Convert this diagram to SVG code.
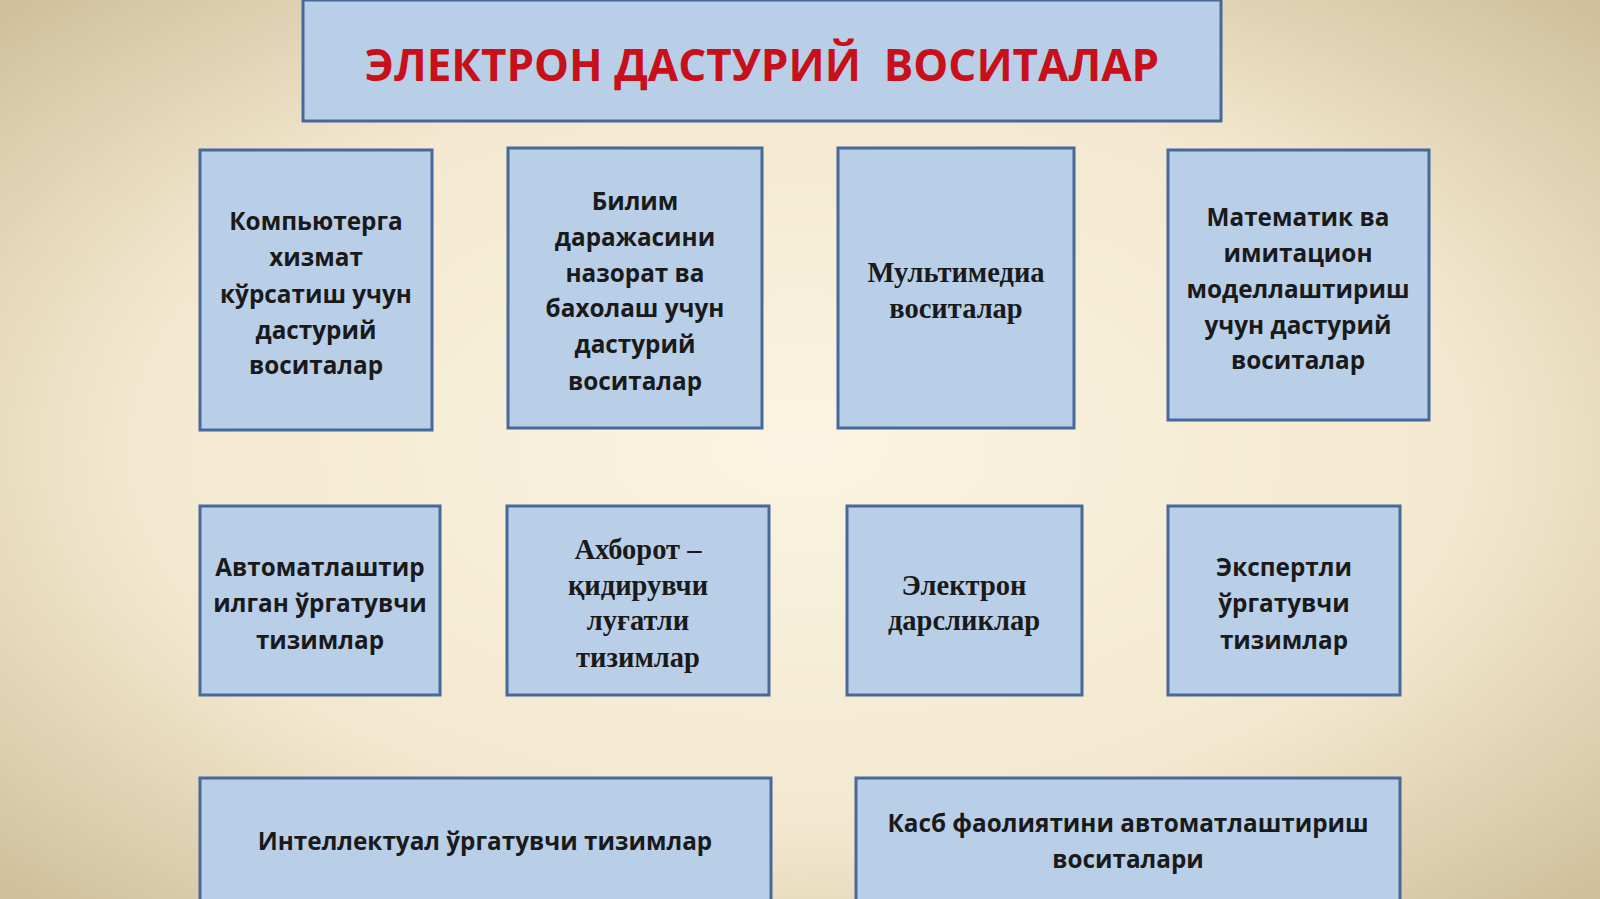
<svg xmlns="http://www.w3.org/2000/svg" width="1600" height="899" viewBox="0 0 1600 899">
<defs>
<radialGradient id="bg" cx="50%" cy="50%" r="70%">
<stop offset="0" stop-color="#fbf4e2"/><stop offset="0.6" stop-color="#f3e8cf"/><stop offset="1" stop-color="#cfbf9c"/>
</radialGradient>
<style>
.b{fill:#b9cfe8;stroke:#46689a;stroke-width:3}
.t{font-family:"Open Sans","Noto Sans",sans-serif;font-weight:bold;font-size:24.3px;fill:#1a1a1a;text-anchor:middle;dominant-baseline:central}
.s{font-family:"Liberation Serif",serif;font-size:28.5px}
</style>
</defs>
<rect width="1600" height="899" fill="url(#bg)"/>
<g id="title"><rect class="b" x="303" y="0" width="918" height="121"/>
<text x="762" y="64" class="t" style="font-size:44px;fill:#c8101a;white-space:pre" xml:space="preserve">ЭЛЕКТРОН ДАСТУРИЙ  ВОСИТАЛАР</text></g>
<g id="n1"><rect class="b" x="200" y="150" width="232" height="280"/>
<text class="t"><tspan x="316" y="220">Компьютерга</tspan><tspan x="316" y="256">хизмат</tspan><tspan x="316" y="293">кўрсатиш учун</tspan><tspan x="316" y="329">дастурий</tspan><tspan x="316" y="364">воситалар</tspan></text></g>
<g id="n2"><rect class="b" x="508" y="148" width="254" height="280"/>
<text class="t"><tspan x="635" y="200">Билим</tspan><tspan x="635" y="236">даражасини</tspan><tspan x="635" y="272">назорат ва</tspan><tspan x="635" y="307">бахолаш учун</tspan><tspan x="635" y="343">дастурий</tspan><tspan x="635" y="380">воситалар</tspan></text></g>
<g id="n3"><rect class="b" x="838" y="148" width="236" height="280"/>
<text class="t s"><tspan x="956" y="272">Мультимедиа</tspan><tspan x="956" y="308">воситалар</tspan></text></g>
<g id="n4"><rect class="b" x="1168" y="150" width="261" height="270"/>
<text class="t"><tspan x="1298" y="216">Математик ва</tspan><tspan x="1298" y="252">имитацион</tspan><tspan x="1298" y="288">моделлаштириш</tspan><tspan x="1298" y="324">учун дастурий</tspan><tspan x="1298" y="359">воситалар</tspan></text></g>
<g id="n5"><rect class="b" x="200" y="506" width="240" height="189"/>
<text class="t"><tspan x="320" y="566">Автоматлаштир</tspan><tspan x="320" y="602">илган ўргатувчи</tspan><tspan x="320" y="639">тизимлар</tspan></text></g>
<g id="n6"><rect class="b" x="507" y="506" width="262" height="189"/>
<text class="t s"><tspan x="638" y="549">Ахборот –</tspan><tspan x="638" y="585">қидирувчи</tspan><tspan x="638" y="620">луғатли</tspan><tspan x="638" y="657">тизимлар</tspan></text></g>
<g id="n7"><rect class="b" x="847" y="506" width="235" height="189"/>
<text class="t s"><tspan x="964" y="585">Электрон</tspan><tspan x="964" y="620">дарсликлар</tspan></text></g>
<g id="n8"><rect class="b" x="1168" y="506" width="232" height="189"/>
<text class="t"><tspan x="1284" y="566">Экспертли</tspan><tspan x="1284" y="602">ўргатувчи</tspan><tspan x="1284" y="639">тизимлар</tspan></text></g>
<g id="n9"><rect class="b" x="200" y="778" width="571" height="130"/>
<text class="t" x="485" y="840">Интеллектуал ўргатувчи тизимлар</text></g>
<g id="n10"><rect class="b" x="856" y="778" width="544" height="130"/>
<text class="t"><tspan x="1128" y="822">Касб фаолиятини автоматлаштириш</tspan><tspan x="1128" y="858">воситалари</tspan></text></g>
<g id="connectors"/>
</svg>
